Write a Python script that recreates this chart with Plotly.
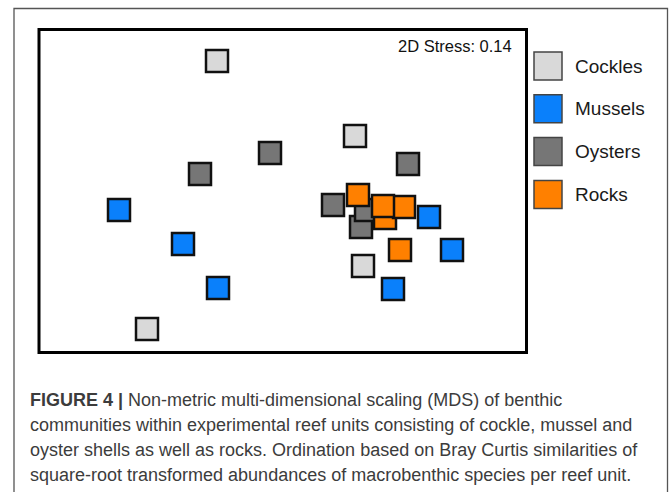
import plotly.graph_objects as go

W, H = 669, 492

# ---- data (MDS coordinates) ----
groups = ["Cockles", "Mussels", "Oysters", "Rocks"]
colors = ["#d9d9d9", "#0a80fb", "#767676", "#ff8000"]

cockles_x = [-0.66, 0.72, 0.80, -1.36]
cockles_y = [1.30, 0.55, -0.75, -1.38]

mussels_x = [-1.64, -1.00, -0.65, 1.46, 1.69, 1.10]
mussels_y = [-0.19, -0.53, -0.97, -0.26, -0.59, -0.98]

oysters_x = [-0.83, -0.13, 1.25, 0.50, 0.78, 0.83]
oysters_y = [0.17, 0.38, 0.27, -0.14, -0.36, -0.19]

rocks_x = [1.02, 1.21, 0.75, 1.00, 1.17]
rocks_y = [-0.27, -0.16, -0.04, -0.15, -0.59]

stress_label = "2D Stress: 0.14"

caption_lines = [
    "<b>FIGURE 4 |</b> Non-metric multi-dimensional scaling (MDS) of benthic",
    "communities within experimental reef units consisting of cockle, mussel and",
    "oyster shells as well as rocks. Ordination based on Bray Curtis similarities of",
    "square-root transformed abundances of macrobenthic species per reef unit.",
]

series_x = [cockles_x, mussels_x, oysters_x, rocks_x]
series_y = [cockles_y, mussels_y, oysters_y, rocks_y]

# ---- layout geometry (pixels) ----
box_l, box_t, box_r, box_b = 39, 29.5, 526.5, 352.5
x_range = [-(283 - box_l) / 100, (box_r - 283) / 100]
y_range = [-(box_b - 191) / 100, (191 - box_t) / 100]

def px(x):
    return x / W

def py(y):
    return 1 - y / H

fig = go.Figure()
for name, col, xs, ys in zip(groups, colors, series_x, series_y):
    fig.add_trace(go.Scatter(
        x=xs, y=ys, mode="markers", name=name, showlegend=False,
        marker=dict(symbol="square", size=22, color=col,
                    line=dict(color="#111111", width=2.5)),
    ))

shapes = [
    # outer figure frame
    dict(type="rect", xref="paper", yref="paper",
         x0=px(14), x1=px(667.5), y0=py(8.5), y1=py(520),
         line=dict(color="#555555", width=1.3), fillcolor="rgba(0,0,0,0)"),
    # plot box
    dict(type="rect", xref="paper", yref="paper",
         x0=px(box_l), x1=px(box_r), y0=py(box_b), y1=py(box_t),
         line=dict(color="#000000", width=3), fillcolor="rgba(0,0,0,0)"),
]

annotations = [
    dict(text=stress_label, xref="paper", yref="paper", x=px(514), y=py(46),
         xanchor="right", yanchor="middle", showarrow=False,
         font=dict(family="Liberation Sans, Arial", size=16.5, color="#111111")),
]

# legend drawn from the group list
leg_y0 = 66
leg_step = 42.8
for i, (name, col) in enumerate(zip(groups, colors)):
    cy = leg_y0 + i * leg_step
    shapes.append(dict(type="rect", xref="paper", yref="paper",
                       x0=px(534), x1=px(562), y0=py(cy + 14), y1=py(cy - 14),
                       line=dict(color="#444444", width=1.5), fillcolor=col))
    annotations.append(dict(text=name, xref="paper", yref="paper",
                            x=px(573), y=py(cy), xanchor="left", yanchor="middle",
                            showarrow=False,
                            font=dict(family="Liberation Sans, Arial", size=19,
                                      color="#1a1a1a")))

cap_y0 = 400
cap_step = 25
for i, line in enumerate(caption_lines):
    annotations.append(dict(text=line, xref="paper", yref="paper",
                            x=px(28), y=py(cap_y0 + i * cap_step),
                            xanchor="left", yanchor="middle", showarrow=False,
                            font=dict(family="Liberation Sans, Arial", size=18,
                                      color="#3c3c3c")))

fig.update_layout(
    width=W, height=H,
    margin=dict(l=0, r=0, t=0, b=0),
    paper_bgcolor="white", plot_bgcolor="white",
    xaxis=dict(domain=[px(box_l), px(box_r)], range=x_range, visible=False,
               fixedrange=True),
    yaxis=dict(domain=[py(box_b), py(box_t)], range=y_range, visible=False,
               fixedrange=True),
    shapes=shapes, annotations=annotations,
    showlegend=False,
)

fig.write_html("out.html")
